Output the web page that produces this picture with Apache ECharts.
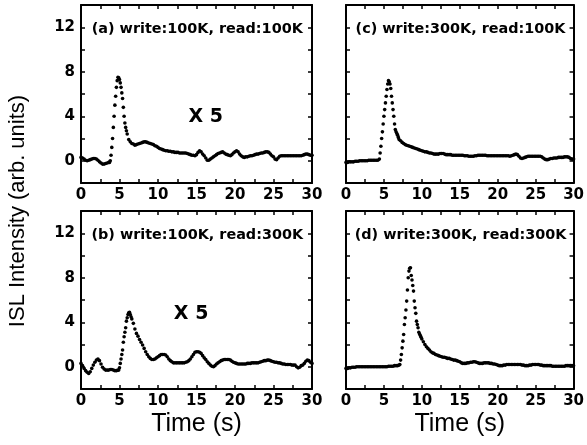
<!DOCTYPE html>
<html>
<head>
<meta charset="utf-8">
<script src="https://cdn.jsdelivr.net/npm/echarts@6/dist/echarts.min.js"></script>
<style>
  html, body { margin: 0; padding: 0; background: #fff; }
  #chart { width: 587px; height: 445px; }
</style>
</head>
<body>
<div id="chart"></div>
<script>
// sampled every STEP seconds from t = 0 to 30
const STEP = 0.2;

// (a) write:100K, read:100K
const aBase = [
  0.3, 0.25, 0.15, 0.05, 0, 0.05, 0.1, 0.15, 0.2, 0.2,
  0.15, 0.05, -0.1, -0.2, -0.3, -0.3, -0.25, -0.2, -0.15, 0,
  1.2, 3.0, 5.0, 6.6, 7.5, 7.3, 6.6, 5.6, 4.0, 3.0,
  2.4, 1.9, 1.7, 1.55, 1.5, 1.4, 1.45, 1.5, 1.55, 1.6,
  1.65, 1.7, 1.7, 1.65, 1.6, 1.55, 1.5, 1.45, 1.35, 1.3,
  1.2, 1.1, 1.05, 1.0, 0.95, 0.9, 0.9, 0.85, 0.85, 0.8,
  0.8, 0.75, 0.75, 0.75, 0.7, 0.7, 0.7, 0.7, 0.7, 0.65,
  0.6, 0.55, 0.5, 0.5, 0.45, 0.55, 0.75, 0.9, 0.8, 0.6,
  0.45, 0.25, 0.05, 0.05, 0.15, 0.25, 0.35, 0.45, 0.55, 0.65,
  0.7, 0.75, 0.8, 0.7, 0.6, 0.55, 0.5, 0.45, 0.55, 0.7,
  0.8, 0.9, 0.8, 0.6, 0.45, 0.35, 0.3, 0.35, 0.35, 0.4,
  0.45, 0.45, 0.5, 0.55, 0.6, 0.6, 0.65, 0.7, 0.7, 0.75,
  0.8, 0.8, 0.75, 0.6, 0.45, 0.35, 0.15, 0.1, 0.25, 0.4,
  0.45, 0.45, 0.45, 0.45, 0.45, 0.45, 0.45, 0.45, 0.45, 0.45,
  0.45, 0.45, 0.45, 0.45, 0.5, 0.55, 0.6, 0.6, 0.55, 0.5,
  0.5
];
// extra samples in between (t = start + i*STEP) where the curve is steep
const aFineStart = 3.7;
const aFine = [-0.15, 0.5, 2.0, 4.0, 5.8, 7.2, 7.45, 7.0, 6.1, 4.8, 3.4, 2.7];

// (b) write:100K, read:300K
const bBase = [
  0.3, 0.1, -0.15, -0.35, -0.5, -0.6, -0.45, -0.15, 0.15, 0.4,
  0.6, 0.7, 0.55, 0.25, -0.05, -0.2, -0.3, -0.3, -0.3, -0.25,
  -0.25, -0.3, -0.35, -0.35, -0.3, -0.1, 0.7, 1.5, 2.7, 3.5,
  4.4, 4.85, 4.7, 4.3, 3.9, 3.4, 3.0, 2.75, 2.45, 2.2,
  1.95, 1.65, 1.35, 1.1, 0.9, 0.75, 0.65, 0.65, 0.7, 0.8,
  0.9, 1.0, 1.1, 1.1, 1.1, 1.05, 0.9, 0.7, 0.55, 0.45,
  0.35, 0.35, 0.35, 0.35, 0.35, 0.35, 0.35, 0.35, 0.4, 0.45,
  0.55, 0.7, 0.9, 1.1, 1.3, 1.35, 1.35, 1.3, 1.2, 1.0,
  0.8, 0.65, 0.45, 0.3, 0.15, 0.05, 0, 0.1, 0.25, 0.35,
  0.45, 0.55, 0.6, 0.65, 0.65, 0.65, 0.65, 0.6, 0.5, 0.4,
  0.35, 0.3, 0.25, 0.25, 0.25, 0.25, 0.25, 0.25, 0.3, 0.3,
  0.3, 0.35, 0.35, 0.35, 0.35, 0.35, 0.4, 0.45, 0.5, 0.55,
  0.55, 0.6, 0.6, 0.55, 0.5, 0.45, 0.4, 0.4, 0.35, 0.35,
  0.3, 0.25, 0.25, 0.2, 0.2, 0.2, 0.2, 0.15, 0.15, 0.15,
  0, -0.1, -0.05, 0.1, 0.15, 0.3, 0.5, 0.6, 0.55, 0.4,
  0.3
];
const bFineStart = 4.9;
const bFine = [-0.3, 0.3, 1.1, 2.2, 3.1, 4.1, 4.7, 4.9, 4.5];

// (c) write:300K, read:100K
const cBase = [
  -0.15, -0.15, -0.1, -0.1, -0.1, -0.1, -0.05, -0.05, -0.05, 0,
  0, 0, 0, 0, 0, 0.05, 0.05, 0.05, 0.05, 0.05,
  0.05, 0.05, 0.15, 1.3, 2.6, 4.0, 5.2, 6.4, 7.2, 6.9,
  5.8, 4.6, 3.3, 2.6, 2.3, 1.9, 1.8, 1.65, 1.55, 1.45,
  1.4, 1.35, 1.3, 1.25, 1.2, 1.15, 1.1, 1.05, 1.0, 0.95,
  0.9, 0.85, 0.8, 0.8, 0.75, 0.7, 0.7, 0.65, 0.6, 0.6,
  0.6, 0.6, 0.65, 0.65, 0.65, 0.6, 0.55, 0.55, 0.55, 0.55,
  0.5, 0.5, 0.5, 0.5, 0.5, 0.5, 0.5, 0.5, 0.45, 0.45,
  0.45, 0.4, 0.4, 0.4, 0.4, 0.45, 0.45, 0.5, 0.5, 0.5,
  0.5, 0.5, 0.5, 0.45, 0.45, 0.45, 0.45, 0.45, 0.45, 0.45,
  0.45, 0.45, 0.45, 0.45, 0.45, 0.45, 0.45, 0.45, 0.4, 0.45,
  0.5, 0.55, 0.6, 0.55, 0.4, 0.25, 0.2, 0.25, 0.3, 0.35,
  0.4, 0.4, 0.4, 0.4, 0.4, 0.4, 0.4, 0.4, 0.4, 0.35,
  0.25, 0.15, 0.1, 0.1, 0.15, 0.2, 0.2, 0.25, 0.25, 0.25,
  0.3, 0.3, 0.3, 0.3, 0.35, 0.35, 0.35, 0.3, 0.2, 0.15,
  0.15
];
const cFineStart = 4.5;
const cFine = [0.7, 2.0, 3.3, 4.6, 5.8, 6.9, 7.1, 6.5, 5.2, 4.0, 2.8, 2.45, 2.1];

// (d) write:300K, read:300K
const dBase = [
  -0.15, -0.15, -0.1, -0.1, -0.05, -0.05, -0.05, 0, 0, 0,
  0, 0, 0, 0, 0, 0, 0, 0, 0, 0,
  0, 0, 0, 0, 0, 0, 0, 0, 0.05, 0.05,
  0.05, 0.05, 0.1, 0.1, 0.1, 0.15, 0.6, 1.7, 2.9, 4.4,
  5.9, 8.0, 8.85, 8.2, 7.3, 5.9, 4.8, 3.8, 3.1, 2.8,
  2.5, 2.25, 2.0, 1.8, 1.65, 1.5, 1.35, 1.25, 1.2, 1.1,
  1.05, 1.0, 0.95, 0.9, 0.85, 0.85, 0.8, 0.75, 0.75, 0.7,
  0.65, 0.6, 0.6, 0.55, 0.5, 0.45, 0.35, 0.3, 0.3, 0.3,
  0.35, 0.35, 0.4, 0.4, 0.45, 0.45, 0.4, 0.35, 0.3, 0.3,
  0.3, 0.35, 0.35, 0.35, 0.35, 0.3, 0.3, 0.25, 0.25, 0.2,
  0.15, 0.1, 0.1, 0.1, 0.15, 0.15, 0.2, 0.2, 0.2, 0.2,
  0.2, 0.2, 0.2, 0.2, 0.2, 0.2, 0.15, 0.15, 0.1, 0.1,
  0.1, 0.15, 0.15, 0.2, 0.2, 0.2, 0.2, 0.2, 0.15, 0.15,
  0.1, 0.1, 0.1, 0.1, 0.1, 0.1, 0.05, 0.05, 0.05, 0.05,
  0.05, 0.05, 0.05, 0.05, 0.05, 0.1, 0.1, 0.1, 0.1, 0.1,
  0.1
];
const dFineStart = 7.1;
const dFine = [0.2, 1.1, 2.3, 3.8, 5.1, 6.9, 8.6, 8.9, 7.8, 6.8, 5.3, 4.1, 3.5, 2.95, 2.65];

const panelTitles = [
  '(a) write:100K, read:100K',
  '(c) write:300K, read:100K',
  '(b) write:100K, read:300K',
  '(d) write:300K, read:300K'
];
// "X 5" scale notes, in data coordinates of their panel
const scaleNotes = [
  { panel: 0, x: 16.2, y: 3.9, text: 'X 5' },
  { panel: 2, x: 14.3, y: 4.7, text: 'X 5' }
];
const titlePos = [15.1, 11.8];

const X_MIN = 0, X_MAX = 30, X_INT = 5;
const Y_MIN = -2, Y_MAX = 14, Y_INT = 2;
const Y_LABELS = [0, 4, 8, 12];

// panel order: a (top-left), c (top-right), b (bottom-left), d (bottom-right)
const panels = [
  { base: aBase, fine: aFine, fineStart: aFineStart },
  { base: cBase, fine: cFine, fineStart: cFineStart },
  { base: bBase, fine: bFine, fineStart: bFineStart },
  { base: dBase, fine: dFine, fineStart: dFineStart }
];

const grids = [
  { left: 81, top: 5, width: 231, height: 178 },
  { left: 346, top: 5, width: 231, height: 178 },
  { left: 81, top: 211, width: 231, height: 178 },
  { left: 346, top: 211, width: 231, height: 178 }
];

const TICK_FONT = { fontFamily: 'DejaVu Sans', fontWeight: 'bold', fontSize: 15, color: '#000' };
const lineStyle = { color: '#000', width: 2 };
const tickStyle = { color: '#000', width: 1.5 };

const xAxes = [], yAxes = [], series = [];

// text placed at a data point of a panel
function noteSeries(i, pos, text, size) {
  return {
    type: 'scatter', xAxisIndex: 2 * i, yAxisIndex: 2 * i,
    symbolSize: 1, silent: true, z: 5,
    itemStyle: { color: 'rgba(0,0,0,0)' },
    label: {
      show: true, position: 'inside', formatter: text, opacity: 1,
      fontFamily: 'DejaVu Sans', fontWeight: 'bold', fontSize: size,
      color: '#000', textBorderWidth: 0
    },
    data: [pos]
  };
}

panels.forEach((p, i) => {
  const bottomRow = i >= 2;
  const leftCol = i % 2 === 0;
  const xBase = {
    gridIndex: i, type: 'value', min: X_MIN, max: X_MAX, interval: X_INT,
    axisLine: { show: true, onZero: false, lineStyle },
    axisTick: { show: true, inside: true, length: 4, lineStyle: tickStyle },
    minorTick: { show: true, splitNumber: 2, length: 4, lineStyle: tickStyle },
    splitLine: { show: false }
  };
  xAxes.push(Object.assign({}, xBase, {
    position: 'bottom',
    axisLabel: Object.assign({ margin: 5 }, TICK_FONT),
    name: bottomRow ? 'Time (s)' : '',
    nameLocation: 'middle',
    nameGap: 23,
    nameTextStyle: { fontFamily: 'Liberation Sans', fontSize: 25, color: '#000', verticalAlign: 'top' }
  }));
  xAxes.push(Object.assign({}, xBase, { position: 'top', axisLabel: { show: false } }));

  const yBase = {
    gridIndex: i, type: 'value', min: Y_MIN, max: Y_MAX, interval: Y_INT,
    axisLine: { show: true, onZero: false, lineStyle },
    axisTick: { show: true, inside: true, length: 4, lineStyle: tickStyle },
    splitLine: { show: false }
  };
  yAxes.push(Object.assign({}, yBase, {
    position: 'left',
    axisLabel: Object.assign({
      show: leftCol, margin: 6,
      formatter: v => (Y_LABELS.indexOf(v) >= 0 ? String(v) : '')
    }, TICK_FONT)
  }));
  yAxes.push(Object.assign({}, yBase, { position: 'right', axisLabel: { show: false } }));

  const data = p.base.map((v, k) => [+(k * STEP).toFixed(2), v])
    .concat(p.fine.map((v, k) => [+(p.fineStart + k * STEP).toFixed(2), v]));

  series.push({
    type: 'scatter', xAxisIndex: 2 * i, yAxisIndex: 2 * i,
    symbol: 'circle', symbolSize: 3.6, silent: true,
    itemStyle: { color: '#000', opacity: 1 },
    data
  });

  series.push(noteSeries(i, titlePos, panelTitles[i], 14.4));
});

scaleNotes.forEach(n => series.push(noteSeries(n.panel, [n.x, n.y], n.text, 19)));

const chart = echarts.init(document.getElementById('chart'), null, { renderer: 'canvas' });
chart.setOption({
  backgroundColor: '#fff',
  animation: false,
  grid: grids,
  xAxis: xAxes,
  yAxis: yAxes,
  series,
  graphic: [{
    type: 'text',
    x: 18, y: 211,
    rotation: Math.PI / 2,
    style: {
      text: 'ISL Intensity (arb. units)',
      fontFamily: 'Liberation Sans', fontSize: 22, fill: '#000',
      align: 'center', verticalAlign: 'middle'
    }
  }]
});
</script>
</body>
</html>
